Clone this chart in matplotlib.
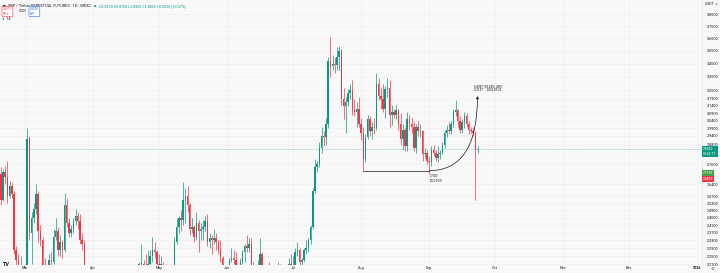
"""XRP / Tether perpetual futures, 1D candles (MEXC) - TradingView style snapshot."""

import datetime as dt

import matplotlib
matplotlib.use("Agg")
import matplotlib.pyplot as plt
import matplotlib.dates as mdates
from matplotlib.patches import FancyArrowPatch
from matplotlib.ticker import FixedLocator, NullLocator, FuncFormatter

plt.rcParams['font.family'] = ['Roboto', 'DejaVu Sans']

# ---- data: daily candles from 2025-02-18 to 2025-09-23 ----
START = dt.date(2025, 2, 18)

opens = [
    # Feb 18-28
    2.70, 2.55, 2.71, 2.68, 2.57, 2.63, 2.58, 2.28, 2.23, 2.15, 2.18,
    # Mar
    2.13, 2.14, 2.92, 2.37, 2.45, 2.50, 2.58, 2.38, 2.33, 2.14, 2.00, 2.18, 2.23, 2.22, 2.35, 2.38,
    2.28, 2.32, 2.28, 2.52, 2.42, 2.37, 2.39, 2.43, 2.46, 2.43, 2.33, 2.31, 2.18, 2.12, 2.08,
    # Apr
    2.09, 2.12, 2.03, 2.05, 2.08, 2.06, 1.80, 1.80, 1.79, 2.03, 1.96, 2.02, 2.14, 2.12, 2.14,
    2.11, 2.08, 2.07, 2.08, 2.09, 2.08, 2.09, 2.21, 2.21, 2.20, 2.19, 2.21, 2.25, 2.28, 2.27,
    # May
    2.21, 2.20, 2.21, 2.20, 2.15, 2.12, 2.13, 2.14, 2.32, 2.40, 2.45, 2.44, 2.55, 2.57, 2.52, 2.39,
    2.40, 2.35, 2.42, 2.38, 2.39, 2.40, 2.43, 2.32, 2.34, 2.33, 2.34, 2.32, 2.28, 2.24, 2.16,
    # Jun
    2.17, 2.18, 2.23, 2.24, 2.23, 2.15, 2.18, 2.22, 2.27, 2.30, 2.29, 2.31, 2.19, 2.15, 2.17,
    2.19, 2.26, 2.17, 2.17, 2.16, 2.11, 2.06, 2.02, 2.17, 2.18, 2.17, 2.09, 2.11, 2.18, 2.21,
    # Jul
    2.18, 2.20, 2.27, 2.28, 2.22, 2.23, 2.28, 2.29, 2.33, 2.40, 2.60, 2.74, 2.76, 2.86, 2.94, 2.93,
    3.02, 3.47, 3.43, 3.45, 3.44, 3.50, 3.55, 3.19, 3.14, 3.17, 3.23, 3.25, 3.11, 3.10, 3.12,
    # Aug
    3.02, 2.96, 2.79, 2.93, 3.05, 2.97, 3.00, 2.99, 3.30, 3.21, 3.19, 3.12, 3.26, 3.27, 3.08, 3.10,
    3.08, 3.11, 3.02, 2.92, 2.98, 2.87, 3.05, 3.02, 3.00, 2.86, 3.00, 2.97, 2.97, 2.82, 2.83,
    # Sep 1-23
    2.78, 2.77, 2.85, 2.83, 2.80, 2.82, 2.83, 2.88, 2.96, 2.98, 2.97, 3.02, 3.10, 3.11, 3.04, 2.98,
    3.03, 3.07, 3.02, 2.98, 2.97, 2.96, 2.85,
]

highs = [
    2.74, 2.73, 2.75, 2.78, 2.66, 2.65, 2.60, 2.30, 2.26, 2.25, 2.19,
    2.19, 2.99, 2.94, 2.48, 2.53, 2.64, 2.60, 2.41, 2.35, 2.24, 2.20, 2.26, 2.27, 2.39, 2.45, 2.40,
    2.36, 2.33, 2.59, 2.56, 2.45, 2.41, 2.45, 2.50, 2.48, 2.47, 2.37, 2.33, 2.20, 2.15, 2.14,
    2.14, 2.19, 2.08, 2.10, 2.09, 2.08, 1.93, 1.91, 2.10, 2.05, 2.03, 2.15, 2.17, 2.19, 2.16,
    2.13, 2.11, 2.10, 2.10, 2.10, 2.14, 2.22, 2.31, 2.23, 2.26, 2.28, 2.28, 2.35, 2.32, 2.28,
    2.26, 2.25, 2.22, 2.21, 2.17, 2.14, 2.17, 2.35, 2.45, 2.46, 2.49, 2.65, 2.62, 2.63, 2.53, 2.45,
    2.41, 2.48, 2.44, 2.42, 2.44, 2.46, 2.47, 2.37, 2.36, 2.39, 2.37, 2.33, 2.33, 2.25, 2.19,
    2.20, 2.24, 2.29, 2.28, 2.27, 2.21, 2.24, 2.28, 2.31, 2.36, 2.34, 2.34, 2.22, 2.19, 2.23,
    2.34, 2.27, 2.20, 2.20, 2.22, 2.13, 2.08, 2.20, 2.22, 2.21, 2.19, 2.14, 2.19, 2.24, 2.26,
    2.25, 2.29, 2.32, 2.29, 2.24, 2.29, 2.33, 2.34, 2.41, 2.62, 2.79, 2.78, 2.90, 3.00, 2.97, 3.06,
    3.50, 3.66, 3.52, 3.50, 3.58, 3.59, 3.56, 3.27, 3.20, 3.26, 3.30, 3.33, 3.19, 3.17, 3.20,
    3.06, 3.00, 2.95, 3.08, 3.07, 3.03, 3.06, 3.38, 3.34, 3.27, 3.30, 3.28, 3.34, 3.33, 3.15, 3.12,
    3.15, 3.12, 3.09, 3.02, 2.99, 3.10, 3.08, 3.06, 3.03, 3.02, 3.04, 3.02, 2.98, 2.86, 2.85,
    2.81, 2.87, 2.88, 2.85, 2.87, 2.85, 2.90, 2.98, 3.01, 3.03, 3.04, 3.12, 3.18, 3.12, 3.07, 3.05,
    3.10, 3.09, 3.04, 3.00, 3.00, 2.97, 2.87,
]

lows = [
    2.52, 2.54, 2.64, 2.53, 2.56, 2.56, 2.26, 2.12, 2.08, 2.12, 1.97,
    2.09, 2.12, 2.33, 2.21, 2.42, 2.47, 2.32, 2.30, 2.12, 1.96, 1.90, 2.09, 2.15, 2.21, 2.33, 2.25,
    2.25, 2.24, 2.27, 2.40, 2.35, 2.35, 2.37, 2.41, 2.39, 2.31, 2.28, 2.12, 2.10, 2.06, 2.04,
    2.06, 2.00, 1.98, 1.99, 2.04, 1.76, 1.61, 1.78, 1.72, 1.91, 1.93, 2.00, 2.06, 2.10, 2.10,
    2.04, 2.05, 2.06, 2.07, 2.05, 2.07, 2.08, 2.18, 2.11, 2.16, 2.17, 2.20, 2.22, 2.24, 2.10,
    2.18, 2.17, 2.18, 2.13, 2.09, 2.07, 2.11, 2.12, 2.31, 2.37, 2.38, 2.41, 2.42, 2.48, 2.36, 2.37,
    2.32, 2.33, 2.27, 2.33, 2.33, 2.38, 2.30, 2.29, 2.26, 2.31, 2.28, 2.26, 2.22, 2.10, 2.12,
    2.13, 2.12, 2.22, 2.21, 2.12, 2.11, 2.16, 2.21, 2.22, 2.27, 2.27, 2.17, 2.08, 2.13, 2.14,
    2.16, 2.14, 2.13, 2.14, 2.09, 2.03, 1.91, 1.97, 2.14, 2.14, 2.06, 2.07, 2.10, 2.17, 2.16,
    2.15, 2.18, 2.25, 2.20, 2.20, 2.22, 2.26, 2.27, 2.31, 2.39, 2.59, 2.71, 2.74, 2.83, 2.87, 2.88,
    2.99, 3.35, 3.40, 3.38, 3.40, 3.40, 3.15, 3.05, 2.96, 3.14, 3.19, 3.08, 3.07, 3.00, 3.00,
    2.91, 2.72, 2.77, 2.92, 2.94, 2.92, 2.95, 2.98, 3.18, 3.12, 3.10, 3.06, 3.20, 3.00, 3.01, 3.06,
    3.05, 2.98, 2.88, 2.85, 2.84, 2.84, 2.98, 2.96, 2.84, 2.83, 2.94, 2.93, 2.78, 2.80, 2.76,
    2.70, 2.75, 2.81, 2.78, 2.77, 2.79, 2.82, 2.86, 2.93, 2.95, 2.95, 3.00, 3.07, 3.00, 2.96, 2.96,
    2.99, 3.00, 2.95, 2.96, 2.94, 2.55, 2.83,
]

closes = [
    2.55, 2.71, 2.68, 2.57, 2.63, 2.58, 2.28, 2.23, 2.15, 2.18, 2.13,
    2.14, 2.92, 2.37, 2.45, 2.50, 2.58, 2.38, 2.33, 2.14, 2.00, 2.18, 2.23, 2.22, 2.35, 2.38, 2.28,
    2.32, 2.28, 2.52, 2.42, 2.37, 2.39, 2.43, 2.46, 2.43, 2.33, 2.31, 2.18, 2.12, 2.08, 2.09,
    2.12, 2.03, 2.05, 2.08, 2.06, 1.80, 1.80, 1.79, 2.03, 1.96, 2.02, 2.14, 2.12, 2.14, 2.11,
    2.08, 2.07, 2.08, 2.09, 2.08, 2.09, 2.21, 2.21, 2.20, 2.19, 2.21, 2.25, 2.28, 2.27, 2.21,
    2.20, 2.21, 2.20, 2.15, 2.12, 2.13, 2.14, 2.32, 2.40, 2.45, 2.44, 2.55, 2.57, 2.52, 2.39, 2.40,
    2.35, 2.42, 2.38, 2.39, 2.40, 2.43, 2.32, 2.34, 2.33, 2.34, 2.32, 2.28, 2.24, 2.16, 2.17,
    2.18, 2.23, 2.24, 2.23, 2.15, 2.18, 2.22, 2.27, 2.30, 2.29, 2.31, 2.19, 2.15, 2.17, 2.19,
    2.26, 2.17, 2.17, 2.16, 2.11, 2.06, 2.02, 2.17, 2.18, 2.17, 2.09, 2.11, 2.18, 2.21, 2.18,
    2.20, 2.27, 2.28, 2.22, 2.23, 2.28, 2.29, 2.33, 2.40, 2.60, 2.74, 2.76, 2.86, 2.94, 2.93, 3.02,
    3.47, 3.43, 3.45, 3.44, 3.50, 3.55, 3.19, 3.14, 3.17, 3.23, 3.25, 3.11, 3.10, 3.12, 3.02,
    2.96, 2.79, 2.93, 3.05, 2.97, 3.00, 2.99, 3.30, 3.21, 3.19, 3.12, 3.26, 3.27, 3.08, 3.10, 3.08,
    3.11, 3.02, 2.92, 2.98, 2.87, 3.05, 3.02, 3.00, 2.86, 3.00, 2.97, 2.97, 2.82, 2.83, 2.78,
    2.77, 2.85, 2.83, 2.80, 2.82, 2.83, 2.88, 2.96, 2.98, 2.97, 3.02, 3.10, 3.11, 3.04, 2.98, 3.03,
    3.07, 3.02, 2.98, 2.97, 2.96, 2.85, 2.852,
]

# price scale labels (right axis)
price_ticks = [3.85, 3.75, 3.65, 3.55, 3.45, 3.35, 3.25, 3.19, 3.14, 3.09, 3.04, 2.99, 2.94,
               2.88, 2.76, 2.64, 2.57, 2.53, 2.49, 2.45, 2.41, 2.37, 2.33, 2.29, 2.25, 2.21]
month_ticks = ["2025-03-01", "2025-04-01", "2025-05-01", "2025-06-01", "2025-07-01",
               "2025-08-01", "2025-09-01", "2025-10-01", "2025-11-01", "2025-12-01", "2026-01-01"]
month_labels = ["Mar", "Apr", "May", "Jun", "Jul", "Aug", "Sep", "Oct", "Nov", "Dec", "2026"]

# drawing tool: support line and curved arrow
SUPPORT = 2.72
SUPPORT_FROM = "2025-08-02"
ARC_FROM = "2025-09-01"
ARC_TO = "2025-09-23"
ARC_TOP = 3.21

UP = "#089981"
DOWN = "#F23645"
TXT = "#131722"
BG = "#f8f8f8"


def px(v):
    return v / 720.0


def py(v):
    return 1.0 - v / 273.0


def dnum(s):
    return mdates.date2num(dt.datetime.strptime(s, "%Y-%m-%d"))


fig = plt.figure(figsize=(7.2, 2.73), dpi=100, facecolor=BG)
ax = fig.add_axes([0, 8 / 273, 702 / 720, 265 / 273], facecolor=BG)
ax.set_yscale("log")

x = mdates.date2num([START + dt.timedelta(days=i) for i in range(len(closes))])
cols = [UP if c >= o else DOWN for o, c in zip(opens, closes)]
ax.vlines(x, lows, highs, colors=cols, lw=0.5, zorder=3)
bottoms = [min(o, c) for o, c in zip(opens, closes)]
heights = [max(abs(c - o), 0.004) for o, c in zip(opens, closes)]
ax.bar(x, heights, bottom=bottoms, width=0.68, color=cols, lw=0, zorder=4)

# current price line
ax.axhline(closes[-1], color=UP, lw=0.45, ls=(0, (1, 1.5)), alpha=0.7, zorder=2)

# support line + curved arrow
ax.plot([dnum(SUPPORT_FROM), dnum(ARC_FROM)], [SUPPORT, SUPPORT], color=TXT, lw=0.5, zorder=5)
arc = FancyArrowPatch((dnum(ARC_FROM), SUPPORT), (dnum(ARC_TO), ARC_TOP),
                      connectionstyle="angle3,angleA=0,angleB=90",
                      arrowstyle="-|>", mutation_scale=3.5, lw=0.5, color=TXT,
                      shrinkA=0, shrinkB=0, zorder=6)
ax.add_patch(arc)
ax.text(dnum(ARC_TO) - 1.5, ARC_TOP * 1.008, "0.4957 (18.24%) 4957\n3.2157     2025-09-22",
        fontsize=2.2, color=TXT, ha="left", va="bottom", linespacing=1.2, zorder=7)
ax.text(dnum(ARC_FROM) + 0.5, SUPPORT * 0.992, "2.7200\n2025-09-01",
        fontsize=2.0, color=TXT, ha="left", va="top", linespacing=1.2, zorder=7)

ax.set_xlim(dnum("2025-02-17") + 0.62, dnum("2026-01-03") + 0.2)
ax.set_ylim(2.206, 3.973)

ax.yaxis.tick_right()
ax.yaxis.set_major_locator(FixedLocator(price_ticks))
ax.yaxis.set_minor_locator(NullLocator())
ax.yaxis.set_major_formatter(FuncFormatter(lambda v, p: f"{v:.4f}"))
ax.xaxis.set_major_locator(FixedLocator([dnum(m) for m in month_ticks]))
ax.set_xticklabels(month_labels)
for lab in ax.get_xticklabels()[-1:]:
    lab.set_fontweight("bold")
ax.tick_params(axis="y", length=0, labelsize=2.7, labelcolor=TXT, pad=3.5)
ax.tick_params(axis="x", length=0, labelsize=2.7, labelcolor=TXT, pad=1.0)
ax.grid(True, color="#efefef", lw=0.4, zorder=0)
for side in ("top", "left", "bottom"):
    ax.spines[side].set_visible(False)
ax.spines["right"].set_color("#e3e3e3")
ax.spines["right"].set_linewidth(0.4)

# ---- header ----
fig.text(px(1.5), py(6), "●", fontsize=3.6, color=TXT, va="center")
fig.text(px(8), py(6), "XRP / Tether PERPETUAL FUTURES · 1D · MEXC",
         fontsize=2.8, color=TXT, va="center")
fig.text(px(93.5), py(6), "●", fontsize=2.0, color=UP, va="center")
chg = closes[-1] - opens[-1]
fig.text(px(99), py(6),
         f"O{opens[-1]:.4f} H{highs[-1]:.4f} L{lows[-1]:.4f} C{closes[-1]:.4f} "
         f"+{chg:.4f} (+{chg / opens[-1] * 100:.2f}%)",
         fontsize=2.6, color=UP, va="center")
fig.text(px(3), py(11.5), f"{closes[-1] - 0.0001:.4f}\nSELL", fontsize=2.1, color=DOWN,
         va="center", ha="left", linespacing=1.1,
         bbox=dict(boxstyle="round,pad=0.35", fc="white", ec=DOWN, lw=0.4))
fig.text(px(18.5), py(11.5), "0.0001", fontsize=2.0, color=TXT, va="center")
fig.text(px(30), py(11.5), f"{closes[-1]:.4f}\nBUY", fontsize=2.1, color="#2962FF",
         va="center", ha="left", linespacing=1.1,
         bbox=dict(boxstyle="round,pad=0.35", fc="white", ec="#2962FF", lw=0.4))
fig.text(px(2), py(18.5), "∨  14", fontsize=2.6, color=TXT, va="center")
fig.text(px(705), py(4), "USDT  ∨", fontsize=2.4, color=TXT, va="center")

# ---- price scale tags ----
fig.text(px(703), py(151.5), f"{closes[-1]:.4f}\n09:42:17", fontsize=2.4, color="white",
         va="center", ha="left", linespacing=1.15,
         bbox=dict(boxstyle="square,pad=0.45", fc=UP, ec=UP, lw=0))
fig.text(px(703), py(172.5), "2.7150", fontsize=2.4, color="white", va="center",
         bbox=dict(boxstyle="square,pad=0.3", fc="#43a047", ec="#43a047", lw=0))
fig.text(px(703), py(179), "2.6850", fontsize=2.4, color="white", va="center",
         bbox=dict(boxstyle="square,pad=0.3", fc=DOWN, ec=DOWN, lw=0))

# ---- footer ----
fig.text(px(2.5), py(264.5), "TV", fontsize=4.0, color=TXT, fontweight="bold", va="center")
fig.text(px(711), py(269.5), "⚙", fontsize=3.2, color="#555555", va="center")

fig.savefig("out.png", dpi=100, facecolor=BG)
